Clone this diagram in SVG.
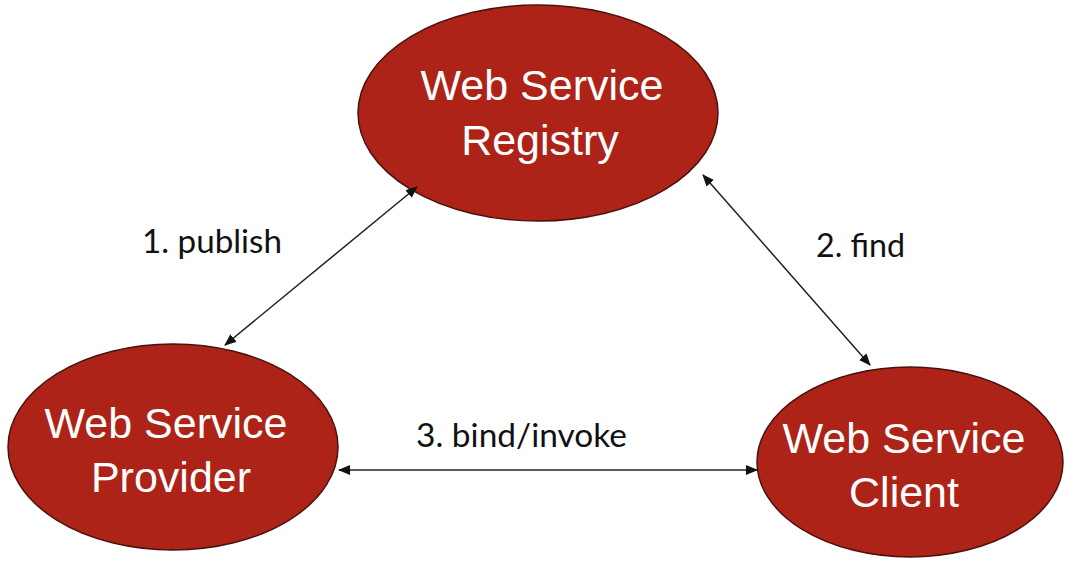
<svg xmlns="http://www.w3.org/2000/svg" width="1074" height="562" viewBox="0 0 1074 562">
<style>
.node{fill:#AE2318;stroke:#4a120e;stroke-width:1.5}
.nt{fill:#ffffff;font-family:"Liberation Sans",Arial,sans-serif;font-size:43px;text-anchor:middle}
.lbl{fill:#111111;font-family:Lato,"Open Sans",sans-serif;font-size:33px}
.conn{stroke:#222222;stroke-width:1.5;fill:none}
</style>
<defs>
<marker id="ah" markerUnits="userSpaceOnUse" markerWidth="12" markerHeight="10" refX="11" refY="5" orient="auto-start-reverse" viewBox="0 0 12 10">
<path d="M0,0 L12,5 L0,10 z" fill="#111111"/>
</marker>
</defs>
<rect width="1074" height="562" fill="#ffffff"/>
<g id="registry">
<ellipse class="node" cx="538" cy="113" rx="180" ry="108"/>
<text class="nt" x="542" y="100">Web Service</text>
<text class="nt" x="540" y="155">Registry</text>
</g>
<g id="provider">
<ellipse class="node" cx="173" cy="447" rx="165" ry="103"/>
<text class="nt" x="166" y="438">Web Service</text>
<text class="nt" x="171" y="492">Provider</text>
</g>
<g id="client">
<ellipse class="node" cx="910" cy="462" rx="153" ry="95"/>
<text class="nt" x="904" y="453">Web Service</text>
<text class="nt" x="904" y="507">Client</text>
</g>
<g id="connectors">
<line class="conn" x1="225" y1="345" x2="417" y2="187" marker-start="url(#ah)" marker-end="url(#ah)"/>
<line class="conn" x1="703" y1="175" x2="870" y2="365" marker-start="url(#ah)" marker-end="url(#ah)"/>
<line class="conn" x1="339" y1="470" x2="757" y2="470" marker-start="url(#ah)" marker-end="url(#ah)"/>
<text class="lbl" x="142" y="253" textLength="140" lengthAdjust="spacingAndGlyphs">1. publish</text>
<text class="lbl" x="816" y="257" textLength="89" lengthAdjust="spacingAndGlyphs">2. find</text>
<text class="lbl" x="416" y="447" textLength="211" lengthAdjust="spacingAndGlyphs">3. bind/invoke</text>
</g>
</svg>
